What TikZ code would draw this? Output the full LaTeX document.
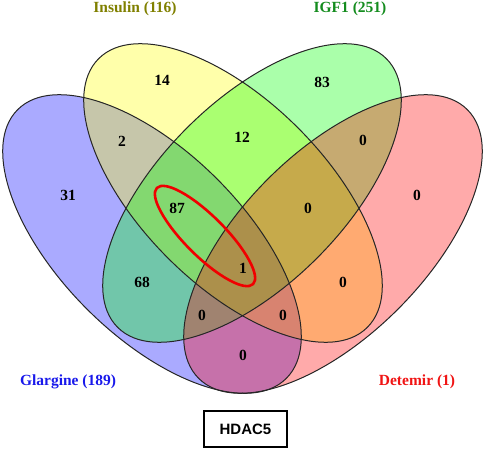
\documentclass[tikz,border=0pt]{standalone}
\usepackage{fontspec}
\setmainfont{Liberation Serif}
\newfontfamily\boxfont{Liberation Sans}
\definecolor{setA}{RGB}{0,0,255}
\definecolor{setB}{RGB}{255,255,0}
\definecolor{setC}{RGB}{0,255,0}
\definecolor{setD}{RGB}{255,0,0}
\definecolor{labA}{RGB}{25,25,235}
\definecolor{labB}{RGB}{128,128,0}
\definecolor{labC}{RGB}{20,140,30}
\definecolor{labD}{RGB}{240,20,20}
\definecolor{ring}{RGB}{240,0,0}
\tikzset{
  setfill/.style={
    fill=#1,
    fill opacity=.333,
    draw=none
  },
  setline/.style={
    draw=black!85,
    line width=1pt
  },
  count/.style={
    font=\bfseries\fontsize{15.5}{18}\selectfont,
    text=black,
    inner sep=0pt
  },
  setname/.style={
    font=\bfseries\fontsize{15.5}{18}\selectfont,
    text=#1,
    inner sep=0pt
  },
  genebox/.style={
    draw=black,
    line width=1.6pt,
    font=\boxfont\bfseries\fontsize{15}{18}\selectfont,
    minimum width=83pt,
    minimum height=36pt,
    inner sep=0pt
  },
  highlight/.style={
    draw=ring,
    line width=2.6pt
  }
}

\begin{document}
\begin{tikzpicture}[x=1pt,y=-1pt]
  \useasboundingbox (0,0) rectangle (485,449);

  % the four sets: fills first, outlines on top
  \foreach \cx/\cy/\ang/\col in {152/244/-45/setA, 233/193/-45/setB,
                                 252/193/45/setC, 333/244/45/setD}
    \fill[setfill=\col, rotate around={\ang:(\cx,\cy)}]
      (\cx,\cy) ellipse [x radius=190pt, y radius=92pt];
  \foreach \cx/\cy/\ang in {152/244/-45, 233/193/-45, 252/193/45, 333/244/45}
    \draw[setline, rotate around={\ang:(\cx,\cy)}]
      (\cx,\cy) ellipse [x radius=190pt, y radius=92pt];

  \draw[highlight, rotate around={-45:(205,236)}]
    (205,236) ellipse [x radius=68pt, y radius=20pt];

  \node[setname=labB] (insulin)  at (135,9)   {Insulin (116)};
  \node[setname=labC] (igf)      at (350,9)   {IGF1 (251)};
  \node[setname=labA] (glargine) at (68,382)  {Glargine (189)};
  \node[setname=labD] (detemir)  at (417,382) {Detemir (1)};

  \node[count] (onlyB) at (162,80)  {14};
  \node[count] (onlyC) at (322,82)  {83};
  \node[count] (AB)    at (122,141) {2};
  \node[count] (BC)    at (242,137) {12};
  \node[count] (CD)    at (363,140) {0};
  \node[count] (onlyA) at (68,195)  {31};
  \node[count] (onlyD) at (417,195) {0};
  \node[count] (ABC)   at (177,208) {87};
  \node[count] (BCD)   at (308,208) {0};
  \node[count] (ABCD)  at (243,268) {1};
  \node[count] (AC)    at (142,282) {68};
  \node[count] (BD)    at (343,282) {0};
  \node[count] (ACD)   at (202,315) {0};
  \node[count] (ABD)   at (283,315) {0};
  \node[count] (AD)    at (243,355) {0};

  \node[genebox] (gene) at (245.5,429) {HDAC5};
\end{tikzpicture}
\end{document}
